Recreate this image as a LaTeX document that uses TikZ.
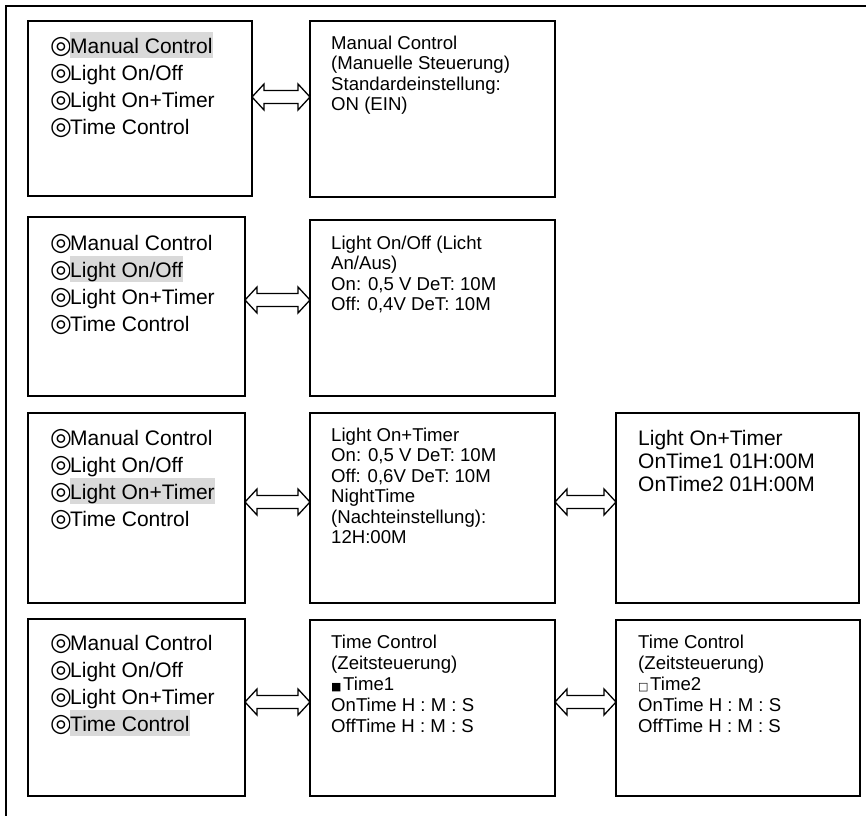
\documentclass[tikz,border=0pt]{standalone}
\usepackage{fontspec}
\setmainfont{Liberation Sans}
\newfontfamily\symfont{DejaVu Sans}
\usetikzlibrary{calc}
\definecolor{hlgray}{RGB}{217,217,217}
\newcommand{\bul}{\makebox[20pt][l]{\symfont\fontsize{25}{25}\selectfont ◎}}
\newcommand{\hlt}[1]{{\setlength{\fboxsep}{0pt}\colorbox{hlgray}{\rule[-5pt]{0pt}{26pt}#1}}}
\newcommand{\sqb}[1]{\makebox[12pt][l]{\symfont\fontsize{11}{11}\selectfont #1}}
\newcommand{\dblarrow}[3]{%
  \path (#1.east |- 0,#3) coordinate (s) (#2.west |- 0,#3) coordinate (t);
  \draw[arrowshape] (s) -- ++(12,-13) -- ++(0,6.5) -- ($(t)+(-12,-6.5)$) -- ++(0,-6.5)
    -- (t) -- ++(-12,13) -- ++(0,-6.5) -- ($(s)+(12,6.5)$) -- ++(0,6.5) -- cycle;
}
\tikzset{
  box/.style={draw=black, line width=1.5pt, fill=white, inner sep=0pt, outer sep=0pt},
  arrowshape/.style={draw=black, line width=1.3pt, fill=white, line join=miter},
  lefttext/.style={anchor=north west, inner sep=0pt, align=left, font=\fontsize{21}{27}\selectfont},
  midtext/.style={anchor=north west, inner sep=0pt, align=left, font=\fontsize{18.6}{20.5}\selectfont},
  midtextb/.style={anchor=north west, inner sep=0pt, align=left, font=\fontsize{18.6}{21}\selectfont},
  bigtext/.style={anchor=north west, inner sep=0pt, align=left, font=\fontsize{21}{23}\selectfont},
}
\begin{document}
\begin{tikzpicture}[x=1pt, y=-1pt]
\useasboundingbox (0,0) rectangle (866,816);
% outer frame (top and left edges)
\coordinate (f0) at (6,6.5);
\coordinate (f1) at (866,6.5);
\coordinate (f2) at (6,816);
\draw[line width=2pt] (f0) -- (f1);
\draw[line width=1.5pt] (6,5.5) -- (f2);
% boxes
\node[box, minimum width=224pt, minimum height=175pt] (L1) at (140,108.5) {};
\node[box, minimum width=245pt, minimum height=176pt] (M1) at (432.5,109) {};
\node[box, minimum width=217pt, minimum height=179pt] (L2) at (136.5,306.5) {};
\node[box, minimum width=245pt, minimum height=176pt] (M2) at (432.5,308) {};
\node[box, minimum width=217pt, minimum height=190pt] (L3) at (136.5,508) {};
\node[box, minimum width=245pt, minimum height=190pt] (M3) at (432.5,508) {};
\node[box, minimum width=243pt, minimum height=190pt] (R3) at (737.5,508) {};
\node[box, minimum width=217pt, minimum height=177pt] (L4) at (136.5,707.5) {};
\node[box, minimum width=245pt, minimum height=176pt] (M4) at (432.5,708) {};
\node[box, minimum width=244pt, minimum height=176pt] (R4) at (738,708) {};
% texts
\node[lefttext] (tL1) at ($(L1.north west)+(22,11)$) {\rule{0pt}{21pt}\bul\hlt{Manual Control}\\\bul Light On/Off\\\bul Light On+Timer\\\bul Time Control};
\node[lefttext] (tL2) at ($(L2.north west)+(22,12)$) {\rule{0pt}{21pt}\bul Manual Control\\\bul\hlt{Light On/Off}\\\bul Light On+Timer\\\bul Time Control};
\node[lefttext] (tL3) at ($(L3.north west)+(22,11)$) {\rule{0pt}{21pt}\bul Manual Control\\\bul Light On/Off\\\bul\hlt{Light On+Timer}\\\bul Time Control};
\node[lefttext] (tL4) at ($(L4.north west)+(22,10)$) {\rule{0pt}{21pt}\bul Manual Control\\\bul Light On/Off\\\bul Light On+Timer\\\bul\hlt{Time Control}};
\node[midtext] (tM1) at ($(M1.north west)+(21,10)$) {\rule{0pt}{18pt}Manual Control\\(Manuelle Steuerung)\\Standardeinstellung:\\ON (EIN)};
\node[midtext] (tM2) at ($(M2.north west)+(21,11)$) {\rule{0pt}{18pt}Light On/Off (Licht\\An/Aus)\\On: 0,5 V DeT: 10M\\Off: 0,4V DeT: 10M};
\node[midtext] (tM3) at ($(M3.north west)+(21,10)$) {\rule{0pt}{18pt}Light On+Timer\\On: 0,5 V DeT: 10M\\Off: 0,6V DeT: 10M\\NightTime\\(Nachteinstellung):\\12H:00M};
\node[bigtext] (tR3) at ($(R3.north west)+(22,11)$) {\rule{0pt}{21pt}Light On+Timer\\OnTime1 01H:00M\\OnTime2 01H:00M};
\node[midtextb] (tM4) at ($(M4.north west)+(21,10)$) {\rule{0pt}{18pt}Time Control\\(Zeitsteuerung)\\\sqb{■}Time1\\OnTime H : M : S\\OffTime H : M : S};
\node[midtextb] (tR4) at ($(R4.north west)+(22,10)$) {\rule{0pt}{18pt}Time Control\\(Zeitsteuerung)\\\sqb{□}Time2\\OnTime H : M : S\\OffTime H : M : S};
% arrows
\dblarrow{L1}{M1}{97}
\dblarrow{L2}{M2}{300}
\dblarrow{L3}{M3}{502}
\dblarrow{M3}{R3}{502}
\dblarrow{L4}{M4}{702}
\dblarrow{M4}{R4}{702}
\end{tikzpicture}
\end{document}
